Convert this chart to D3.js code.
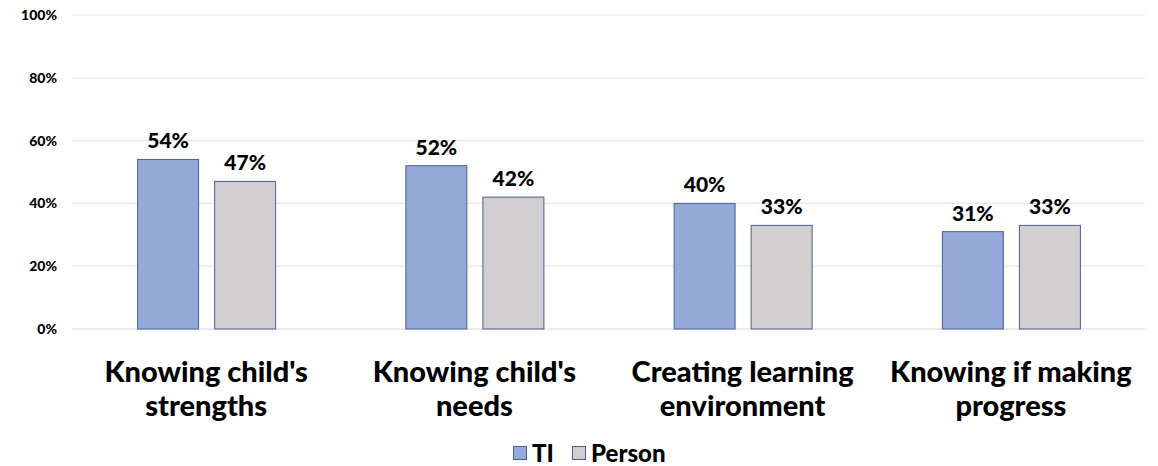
<!DOCTYPE html>
<html><head><meta charset="utf-8">
<script src="https://cdn.jsdelivr.net/npm/d3@7"></script>
<style>body{margin:0;background:#fff}svg{display:block}text{font-family:Lato,"Open Sans",sans-serif;font-weight:bold;fill:#000}</style>
</head><body>
<svg id="c" width="1158" height="466"></svg>
<script>
const categories = [["Knowing child's","strengths"],["Knowing child's","needs"],["Creating learning","environment"],["Knowing if making","progress"]];
const series = ["TI","Person"];
const tiValues = [0.54,0.52,0.40,0.31];
const personValues = [0.47,0.42,0.33,0.33];
const yTicks = [0,0.2,0.4,0.6,0.8,1.0];
const colors = {TI:"#95a9d8", Person:"#d0cece"};

(function(){
const svg = d3.select("#c");
const pLeft=72, pRight=1145, pTop=15, pBottom=329;
const x0 = d3.scaleBand().domain(d3.range(categories.length)).range([pLeft,pRight]).paddingInner(0).paddingOuter(0);
const x1 = d3.scaleBand().domain(series).range([0,x0.bandwidth()]).paddingInner(0.208).paddingOuter(0.845);
const y = d3.scaleLinear().domain([0,1]).range([pBottom,pTop]);

// gridlines
svg.append("g").selectAll("line").data(yTicks).join("line")
  .attr("x1",pLeft).attr("x2",pRight).attr("y1",d=>y(d)).attr("y2",d=>y(d))
  .attr("stroke",d=>d===0?"#d9d9d9":"#e6e6e6").attr("stroke-width",1.2);

// y axis labels
const yAxis = d3.axisLeft(y).tickValues(yTicks).tickFormat(d3.format(".0%")).tickSize(0).tickPadding(15);
const ga = svg.append("g").attr("transform",`translate(${pLeft},0)`).call(yAxis);
ga.select(".domain").remove();
ga.selectAll("text").style("font-size","14px").style("font-family","Lato,sans-serif").style("font-weight","900").attr("fill","#000");

const data = categories.map((c,i)=>({i, vals:[{s:"TI",v:tiValues[i]},{s:"Person",v:personValues[i]}]}));
const g = svg.append("g").selectAll("g").data(data).join("g").attr("transform",d=>`translate(${x0(d.i)},0)`);
g.selectAll("rect").data(d=>d.vals).join("rect")
  .attr("x",d=>x1(d.s)+0.5).attr("width",x1.bandwidth())
  .attr("y",d=>y(d.v)).attr("height",d=>pBottom-y(d.v))
  .attr("fill",d=>colors[d.s]).attr("stroke","#4a5f94").attr("stroke-width",1);
g.selectAll("text.lbl").data(d=>d.vals).join("text").attr("class","lbl")
  .attr("x",d=>x1(d.s)+x1.bandwidth()/2+0.5).attr("y",d=>y(d.v)-11)
  .attr("text-anchor","middle").style("font-size","21px").style("font-weight","900")
  .text(d=>d3.format(".0%")(d.v));

// category labels
const cl = svg.append("g").selectAll("text").data(categories).join("text")
  .attr("x",(d,i)=>x0(i)+x0.bandwidth()/2).attr("y",382)
  .attr("text-anchor","middle").style("font-size","29px").style("font-weight","900");
cl.selectAll("tspan").data(d=>d).join("tspan")
  .attr("x",function(){return this.parentNode.getAttribute("x");})
  .attr("dy",(d,j)=>j===0?0:34).text(d=>d);

// legend
const lg = svg.append("g");
const legPos = [{s:"TI",x:513},{s:"Person",x:572}];
legPos.forEach(p=>{
  lg.append("rect").attr("x",p.x+0.5).attr("y",446.5).attr("width",13).attr("height",13)
    .attr("fill",colors[p.s]).attr("stroke","#4a5f94");
  lg.append("text").attr("x",p.x+19).attr("y",462).style("font-size","24px").style("font-weight","900").text(p.s);
});
})();
</script>
</body></html>
